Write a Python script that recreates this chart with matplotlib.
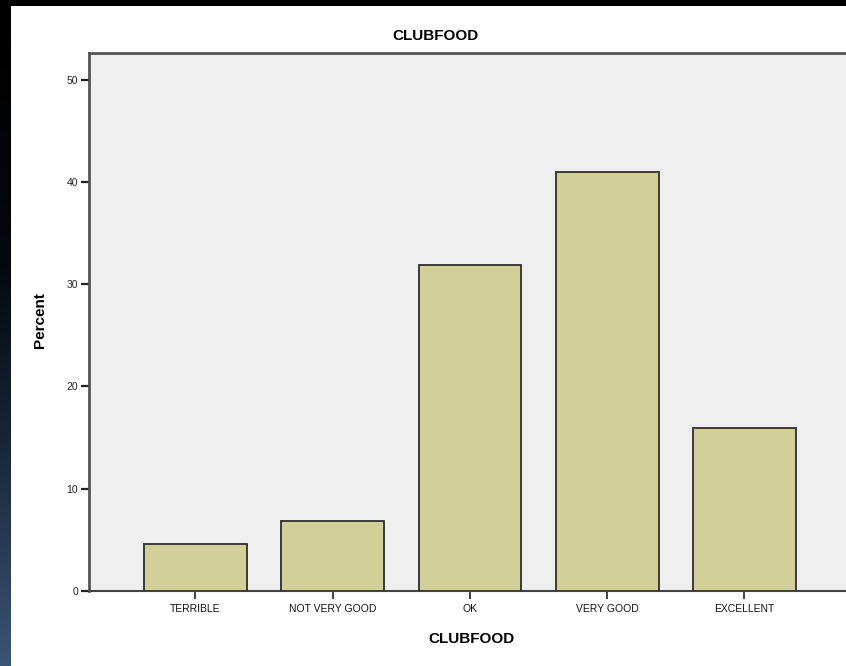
import matplotlib.pyplot as plt
import numpy as np
from matplotlib.colors import LinearSegmentedColormap

# %% data
categories = ['TERRIBLE', 'NOT VERY GOOD', 'OK', 'VERY GOOD', 'EXCELLENT']
percent = [4.6, 6.8, 31.9, 41.0, 15.9]
yticks = [0, 10, 20, 30, 40, 50]

plt.rcParams['font.family'] = ['Liberation Sans', 'DejaVu Sans']

W, H = 846, 666
fig = plt.figure(figsize=(W / 100, H / 100), dpi=100)
fig.patch.set_facecolor('white')

# %% dark frame: black top strip, left strip fading to slate blue
top = fig.add_axes([0, 1 - 6 / H, 1, 6 / H])
top.axis('off')
top.add_patch(plt.Rectangle((0, 0), 1, 1, color='black', transform=top.transAxes))

left = fig.add_axes([0, 0, 10 / W, 1])
left.axis('off')
grad = LinearSegmentedColormap.from_list(
    'band', [(0, '#000000'), (0.4, '#05080d'), (0.7, '#1c2a3e'), (1, '#3b5575')])
left.imshow(np.linspace(0, 1, 256).reshape(-1, 1), aspect='auto', cmap=grad,
            extent=[0, 1, 1, 0])

# %% main axes
x0, x1, yb, yt = 89, 846, 591, 53
ax = fig.add_axes([x0 / W, (H - yb) / H, (x1 - x0) / W, (yb - yt) / H])
ax.set_facecolor('#efefef')

x = np.arange(len(categories))
ax.bar(x, percent, width=0.75, color='#d3cf98', edgecolor='#2e2e2e', linewidth=1.3,
       zorder=3)

ax.set_xlim(-0.776, 4.74)
ax.set_ylim(0, 52.6)
ax.set_yticks(yticks)
ax.set_yticklabels([str(v) for v in yticks], fontsize=7.5, color='#222222')
ax.set_xticks(x)
ax.set_xticklabels(categories, fontsize=7.5, color='#111111')
ax.tick_params(axis='y', length=6, width=1.6, color='#222222', pad=2)
ax.tick_params(axis='x', length=6, width=1.3, color='#333333', pad=3)

for s in ['left', 'top']:
    ax.spines[s].set_color('#555555')
    ax.spines[s].set_linewidth(2)
ax.spines['bottom'].set_linewidth(1.5)
ax.spines['bottom'].set_color('#444444')
ax.spines['right'].set_visible(False)

fig.text(435 / W, 1 - 36 / H, 'CLUBFOOD', ha='center', va='center',
         fontsize=11, fontweight='bold')
fig.text(471 / W, 1 - 639 / H, 'CLUBFOOD', ha='center', va='center',
         fontsize=11, fontweight='bold')
fig.text(40 / W, 1 - 320 / H, 'Percent', ha='center', va='center', rotation=90,
         fontsize=11, fontweight='bold')

fig.savefig('out.png', dpi=100, facecolor=fig.get_facecolor())
